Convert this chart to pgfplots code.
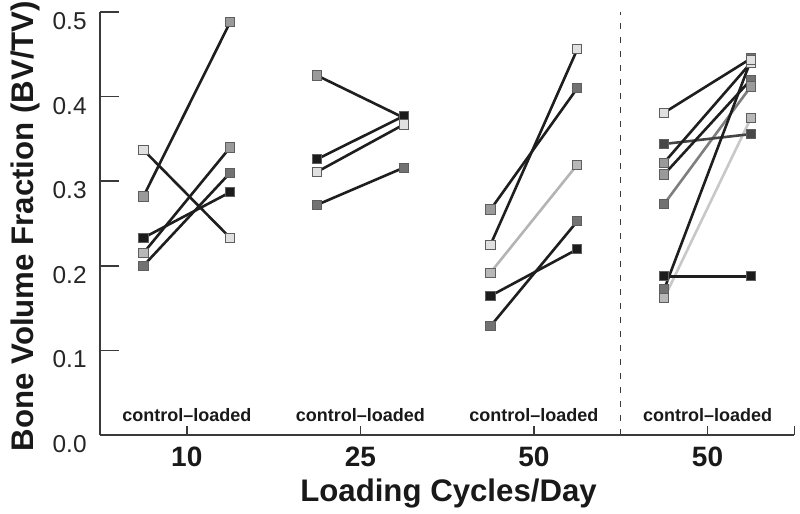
\documentclass[border=0pt]{standalone}
\usepackage{fontspec}
\setmainfont{Liberation Sans}
\usepackage{pgfplots}
\pgfplotsset{compat=1.18}
\definecolor{axgray}{HTML}{3A3A3A}
\definecolor{lblack}{HTML}{1E1E1E}
\definecolor{ldark}{HTML}{444444}
\definecolor{lmid}{HTML}{7E7E7E}
\definecolor{llight}{HTML}{B4B4B4}
\definecolor{llight2}{HTML}{C8C8C8}
\definecolor{mkborder}{HTML}{5E5E5E}
\definecolor{cK}{HTML}{1C1C1C}
\definecolor{cD}{HTML}{474747}
\definecolor{cM}{HTML}{727272}
\definecolor{cL}{HTML}{9A9A9A}
\definecolor{cLL}{HTML}{B8B8B8}
\definecolor{cVL}{HTML}{E0E0E0}
\pgfplotsset{
  seg/.style={line width=1.3pt, color=#1, mark=none},
  mk/.style={only marks, mark=square*, mark size=2.3pt, draw=mkborder, fill=#1, line width=0.45pt, mark options={solid}},
}
\begin{document}
\begin{tikzpicture}
\path[use as bounding box] (-50pt,-39.5pt) rectangle (350pt,217.5pt);
\begin{axis}[
  scale only axis, width=347.15pt, height=211.5pt,
  xmin=0.5, xmax=4.5, ymin=0, ymax=0.5,
  clip=false,
  axis x line*=bottom, axis y line*=left,
  axis line style={-, draw=axgray, line width=0.75pt},
  tick align=inside,
  major tick length=9.5pt,
  tick style={draw=axgray, line width=0.75pt},
  xtick style={/pgfplots/major tick length=4.5pt},
  xtick={1,2,3,4,4.5},
  xticklabels={10,25,50,50,{}},
  ytick={0,0.1,0.2,0.3,0.4,0.5},
  yticklabels={0.0,0.1,0.2,0.3,0.4,0.5},
  /pgf/number format/assume math mode=true,
  xticklabel style={font=\bfseries\fontsize{14}{16}\selectfont, anchor=center, yshift=-10.85pt, text=black!90},
  yticklabel style={font=\fontsize{12.2}{14}\selectfont, anchor=north east, inner sep=0pt, xshift=-6.5pt, text=black!85},
  xlabel={Loading Cycles/Day},
  ylabel={Bone Volume Fraction (BV/TV)},
  xlabel style={font=\bfseries\fontsize{15.6}{18}\selectfont, at={(axis description cs:0.502,-0.1385)}, anchor=center, text=black!90},
  ylabel style={font=\bfseries\fontsize{15.6}{18}\selectfont, at={(axis description cs:-0.108,0.494)}, anchor=center, text=black!90},
]
% dashed separator
\addplot[color=axgray, line width=0.6pt, dash pattern=on 3pt off 4pt] coordinates {(3.5,0) (3.5,0.5)};

% ---- group 1 (10 cycles)
\addplot[seg=lblack] coordinates {(0.75,0.337) (1.25,0.233)};
\addplot[seg=lblack] coordinates {(0.75,0.282) (1.25,0.488)};
\addplot[seg=lblack] coordinates {(0.75,0.233) (1.25,0.287)};
\addplot[seg=lblack] coordinates {(0.75,0.215) (1.25,0.340)};
\addplot[seg=lblack] coordinates {(0.75,0.200) (1.25,0.310)};
% ---- group 2 (25 cycles)
\addplot[seg=lblack] coordinates {(1.75,0.425) (2.25,0.375)};
\addplot[seg=lblack] coordinates {(1.75,0.326) (2.25,0.377)};
\addplot[seg=lblack] coordinates {(1.75,0.311) (2.25,0.367)};
\addplot[seg=lblack] coordinates {(1.75,0.272) (2.25,0.316)};
% ---- group 3 (50 cycles)
\addplot[seg=lblack] coordinates {(2.75,0.2665) (3.25,0.410)};
\addplot[seg=lblack] coordinates {(2.75,0.225) (3.25,0.456)};
\addplot[seg=llight] coordinates {(2.75,0.192) (3.25,0.3196)};
\addplot[seg=lblack] coordinates {(2.75,0.1645) (3.25,0.2196)};
\addplot[seg=lblack] coordinates {(2.75,0.1287) (3.25,0.2527)};
% ---- group 4 (50 cycles)
\addplot[seg=llight2] coordinates {(3.75,0.1617) (4.25,0.3746)};
\addplot[seg=lmid] coordinates {(3.75,0.273) (4.25,0.412)};
\addplot[seg=ldark] coordinates {(3.75,0.344) (4.25,0.3557)};
\addplot[seg=lblack] coordinates {(3.75,0.381) (4.25,0.445)};
\addplot[seg=lblack] coordinates {(3.75,0.322) (4.25,0.440)};
\addplot[seg=lblack] coordinates {(3.75,0.308) (4.25,0.420)};
\addplot[seg=lblack] coordinates {(3.75,0.1877) (4.25,0.1877)};
\addplot[seg=lblack] coordinates {(3.75,0.172) (4.25,0.443)};

% ---- markers
\addplot[mk=cK] coordinates {(0.75,0.233) (1.25,0.287) (2.25,0.375) (1.75,0.326) (2.25,0.377) (2.75,0.1645) (3.25,0.2196) (3.75,0.1877) (4.25,0.1877)};
\addplot[mk=cD] coordinates {(3.75,0.344) (4.25,0.3557)};
\addplot[mk=cM] coordinates {(0.75,0.200) (1.25,0.310) (1.75,0.272) (2.25,0.316) (2.75,0.1287) (3.25,0.2527) (3.25,0.410) (3.75,0.273) (3.75,0.172) (4.25,0.420) (4.25,0.445)};
\addplot[mk=cL] coordinates {(0.75,0.282) (1.25,0.488) (1.25,0.340) (1.75,0.425) (2.75,0.2665) (3.75,0.322) (3.75,0.308) (4.25,0.412)};
\addplot[mk=cLL] coordinates {(0.75,0.215) (2.75,0.192) (3.25,0.3196) (3.75,0.1617) (4.25,0.3746)};
\addplot[mk=cVL] coordinates {(0.75,0.337) (1.25,0.233) (1.75,0.311) (2.25,0.367) (2.75,0.225) (3.25,0.456) (3.75,0.381) (4.25,0.440) (4.25,0.443)};

% ---- group captions
\node[font=\bfseries\fontsize{9}{11}\selectfont, anchor=base, yshift=6.65pt, text=black!90] at (axis cs:1,0) {control--loaded};
\node[font=\bfseries\fontsize{9}{11}\selectfont, anchor=base, yshift=6.65pt, text=black!90] at (axis cs:2,0) {control--loaded};
\node[font=\bfseries\fontsize{9}{11}\selectfont, anchor=base, yshift=6.65pt, text=black!90] at (axis cs:3,0) {control--loaded};
\node[font=\bfseries\fontsize{9}{11}\selectfont, anchor=base, yshift=6.65pt, text=black!90] at (axis cs:4,0) {control--loaded};
\end{axis}
\end{tikzpicture}
\end{document}
